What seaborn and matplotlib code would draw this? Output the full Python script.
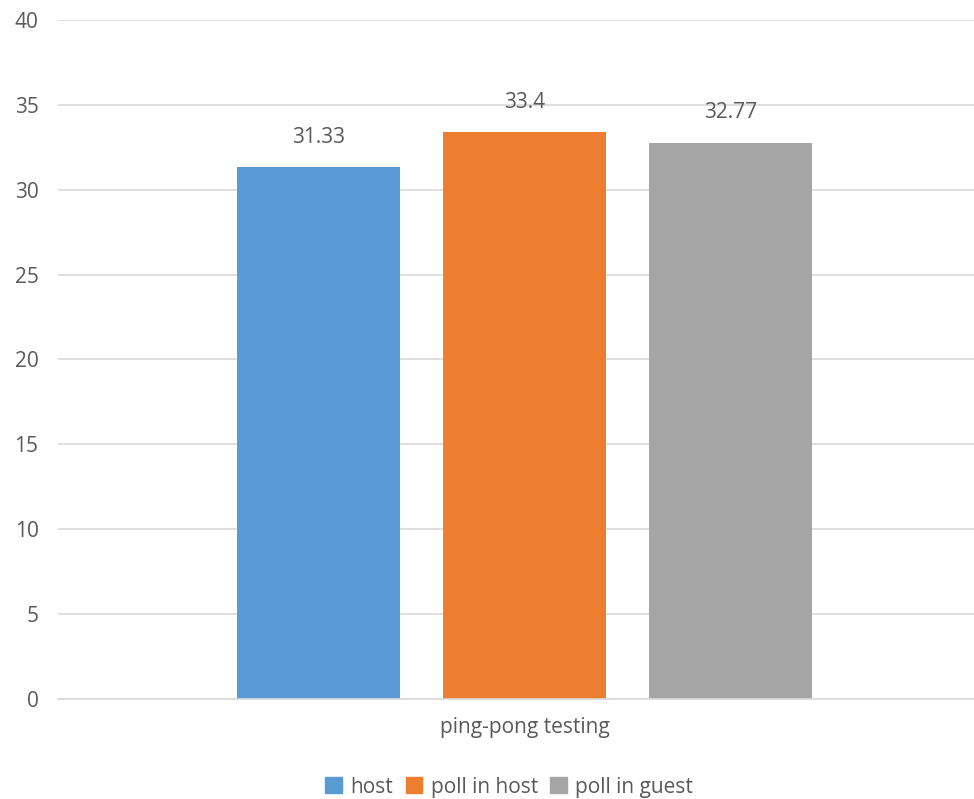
import matplotlib
matplotlib.use("Agg")
import matplotlib.pyplot as plt
import seaborn as sns
import pandas as pd

# Data
categories = ["ping-pong testing"]
series = ["host", "poll in host", "poll in guest"]
values = [31.33, 33.4, 32.77]
colors = ["#5B9BD5", "#ED7D31", "#A5A5A5"]
y_ticks = [0, 5, 10, 15, 20, 25, 30, 35, 40]

df = pd.DataFrame({
    "category": categories * len(series),
    "series": series,
    "value": values,
})

sns.set_theme(style="white")
plt.rcParams["font.family"] = ["Open Sans", "DejaVu Sans"]
text_color = "#595959"
grid_color = "#D9D9D9"
fs = 15

fig = plt.figure(figsize=(9.74, 7.99), dpi=100)
ax = fig.add_axes([0.0595, 0.1252, 0.9405, 0.8498])

sns.barplot(data=df, x="category", y="value", hue="series",
            palette=colors, width=0.8, gap=0.21, saturation=1,
            linewidth=0, legend=False, ax=ax)

ax.set_ylim(0, 40)
ax.set_yticks(y_ticks)
ax.set_xlim(-0.604, 0.582)
ax.yaxis.grid(True, color=grid_color, linewidth=1.2)
ax.set_axisbelow(True)
for side in ["top", "right", "left"]:
    ax.spines[side].set_visible(False)
ax.spines["bottom"].set_color(grid_color)
ax.spines["bottom"].set_linewidth(1.2)
ax.tick_params(axis="both", length=0, labelsize=fs, labelcolor=text_color)
ax.tick_params(axis="y", pad=14)
ax.tick_params(axis="x", pad=13)
ax.set_xlabel("")
ax.set_ylabel("")

# Value labels above each bar
for cont, v in zip(ax.containers, values):
    for bar in cont:
        ax.annotate(f"{v:g}", (bar.get_x() + bar.get_width() / 2, v),
                    xytext=(0, 14), textcoords="offset points",
                    ha="center", va="bottom", fontsize=fs, color=text_color)

# Legend
handles = [plt.Rectangle((0, 0), 1, 1, color=c) for c in colors]
fig.legend(handles, series, loc="center", bbox_to_anchor=(0.523, 0.015),
           ncol=3, frameon=False, fontsize=fs, labelcolor=text_color,
           handlelength=0.8, handleheight=0.8, handletextpad=0.4,
           columnspacing=0.6)

fig.savefig("out.png", dpi=100)
